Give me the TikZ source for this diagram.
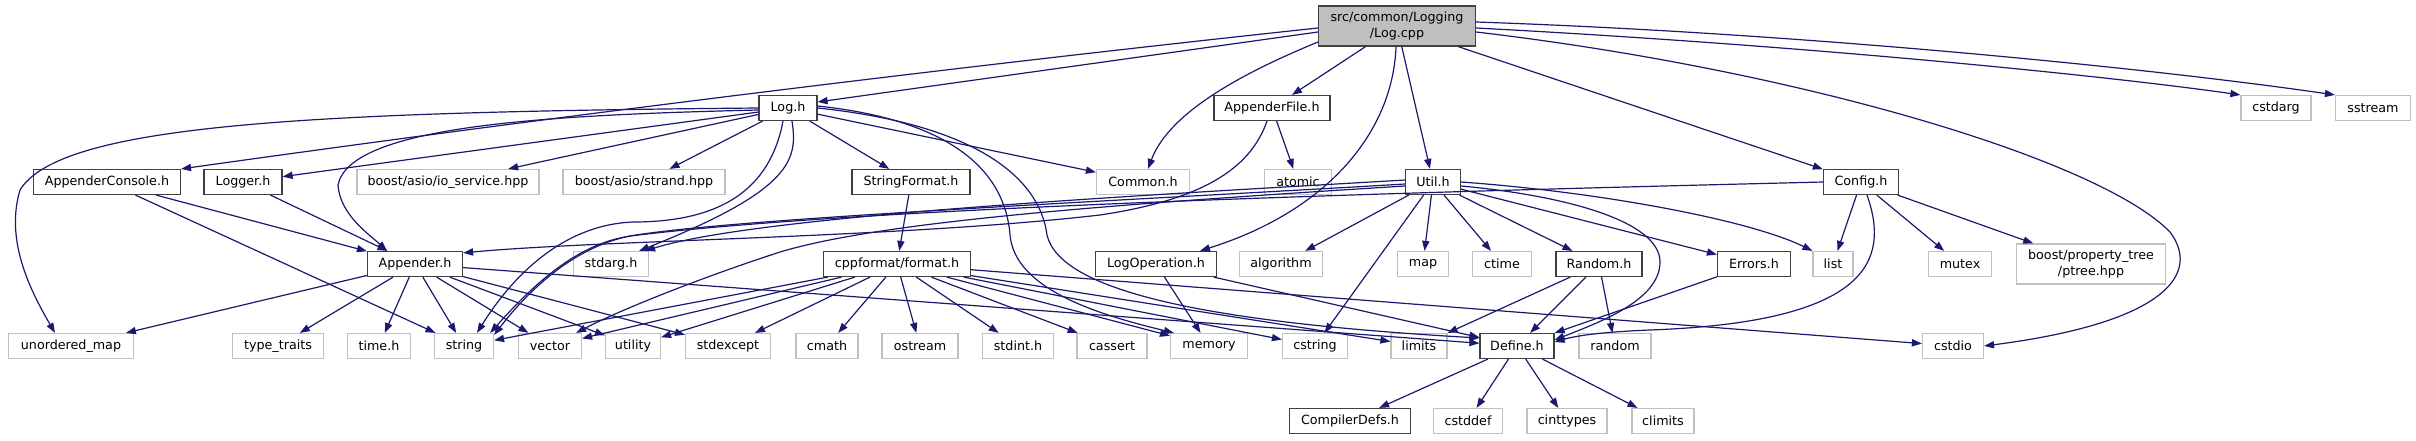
\documentclass[tikz,border=0pt]{standalone}
\usepackage{fontspec}
\setmainfont{DejaVu Sans}
\usetikzlibrary{arrows.meta,calc}
\definecolor{edgec}{HTML}{191970}
\definecolor{dkb}{HTML}{404040}
\definecolor{ltb}{HTML}{C0C0C0}
\definecolor{cppfill}{HTML}{BFBFBF}
\begin{document}
\begin{tikzpicture}[x=0.5pt,y=-0.5pt,
 box/.style={draw, rectangle, inner sep=0pt, minimum height=12.5pt, font=\fontsize{6.35}{7.6}\selectfont, line width=0.6pt, align=center},
 dk/.style={box, draw=dkb},
 lt/.style={box, draw=ltb},
 e/.style={draw=edgec, line width=0.6pt, -{Triangle[length=5pt,width=3.6pt]}}
]
\useasboundingbox (0,0) rectangle (2416,440);
% row 0
\node[dk, fill=cppfill, minimum width=78.5pt, minimum height=20pt] (logcpp) at (1397,26) {src/common/Logging\\/Log.cpp};
% row 1
\node[dk, minimum width=29pt] (logh) at (788,108) {Log.h};
\node[dk, minimum width=58pt] (appfile) at (1272,108) {AppenderFile.h};
\node[lt, minimum width=35pt] (cstdarg) at (2276,108) {cstdarg};
\node[lt, minimum width=37.5pt] (sstream) at (2373,108) {sstream};
% row 2
\node[dk, minimum width=73.5pt] (appcons) at (107,182) {AppenderConsole.h};
\node[dk, minimum width=39pt] (logger) at (243,182) {Logger.h};
\node[lt, minimum width=91pt] (iosvc) at (448,182) {boost/asio/io\_service.hpp};
\node[lt, minimum width=81pt] (strand) at (644,182) {boost/asio/strand.hpp};
\node[dk, minimum width=59pt] (strfmt) at (911,182) {StringFormat.h};
\node[lt, minimum width=46.5pt] (common) at (1143,182) {Common.h};
\node[lt, minimum width=33.5pt] (atomic) at (1298,182) {atomic};
\node[dk, minimum width=27.5pt] (util) at (1433,182) {Util.h};
\node[dk, minimum width=37.5pt] (config) at (1861,182) {Config.h};
% row 3
\node[dk, minimum width=47.5pt] (appender) at (415,264) {Appender.h};
\node[lt, minimum width=37.5pt] (stdargh) at (611,264) {stdarg.h};
\node[dk, minimum width=73.5pt] (format) at (897,264) {cppformat/format.h};
\node[dk, minimum width=60.5pt] (logop) at (1156,264) {LogOperation.h};
\node[lt, minimum width=41.5pt] (algorithm) at (1281,264) {algorithm};
\node[lt, minimum width=25.5pt] (map) at (1423,264) {map};
\node[lt, minimum width=29.5pt] (ctime) at (1502,264) {ctime};
\node[dk, minimum width=43pt] (randomh) at (1599,264) {Random.h};
\node[dk, minimum width=36.5pt] (errors) at (1754,264) {Errors.h};
\node[lt, minimum width=20pt] (list) at (1833,264) {list};
\node[lt, minimum width=31.5pt] (mutex) at (1960,264) {mutex};
\node[lt, minimum width=74.5pt, minimum height=20pt] (ptree) at (2091,264) {boost/property\_tree\\/ptree.hpp};
% row 4
\node[lt, minimum width=62.5pt] (umap) at (71,346) {unordered\_map};
\node[lt, minimum width=45.5pt] (typetraits) at (278,346) {type\_traits};
\node[lt, minimum width=31.5pt] (timeh) at (379,346) {time.h};
\node[lt, minimum width=29.5pt] (string) at (464,346) {string};
\node[lt, minimum width=31.5pt] (vector) at (550,346) {vector};
\node[lt, minimum width=27.5pt] (utility) at (633,346) {utility};
\node[lt, minimum width=42.5pt] (stdexcept) at (728,346) {stdexcept};
\node[lt, minimum width=31pt] (cmath) at (827,346) {cmath};
\node[lt, minimum width=38pt] (ostream) at (920,346) {ostream};
\node[lt, minimum width=35.5pt] (stdint) at (1018,346) {stdint.h};
\node[lt, minimum width=35pt] (cassert) at (1112,346) {cassert};
\node[lt, minimum width=38.5pt] (memory) at (1209,346) {memory};
\node[lt, minimum width=32.5pt] (cstring) at (1315,346) {cstring};
\node[lt, minimum width=28pt] (limits) at (1419,346) {limits};
\node[dk, minimum width=37pt] (define) at (1517,346) {Define.h};
\node[lt, minimum width=36pt] (random) at (1615,346) {random};
\node[lt, minimum width=30.5pt] (cstdio) at (1953,346) {cstdio};
% row 5
\node[dk, minimum width=60.5pt] (compdefs) at (1350,421) {CompilerDefs.h};
\node[lt, minimum width=34.5pt] (cstddef) at (1468,421) {cstddef};
\node[lt, minimum width=40pt] (cinttypes) at (1567,421) {cinttypes};
\node[lt, minimum width=31pt] (climits) at (1663,421) {climits};

% ---- edges from Log.cpp
\draw[e] ([yshift=-1pt]logcpp.west) .. controls (1000,62) and (600,110) .. (appcons.north east);
\draw[e] ([yshift=-3pt]logcpp.west) -- ([yshift=3pt]logh.east);
\draw[e] (logcpp) -- (appfile);
\draw[e] (logcpp) -- (util);
\draw[e] (logcpp) -- (config);
\draw[e] ([yshift=-8pt]logcpp.west) .. controls (1250,70) and (1170,110) .. ([xshift=2.5pt]common.north);
\draw[e] ([xshift=-0.5pt]logcpp.south) .. controls (1393,130) and (1330,210) .. ([xshift=22pt]logop.north);
\draw[e] ([yshift=-1pt]logcpp.east) .. controls (1800,45) and (2100,75) .. (cstdarg.north west);
\draw[e] ([yshift=2pt]logcpp.east) .. controls (1800,33) and (2150,68) .. (sstream.north west);
\draw[e] ([yshift=-3pt]logcpp.east) .. controls (1800,70) and (2100,160) .. (2170,232) .. controls (2200,272) and (2170,322) .. (cstdio.east);
% ---- edges from Log.h
\draw[e] (logh.west) .. controls (300,112) and (60,125) .. (20,190) .. controls (5,240) and (30,290) .. ([xshift=-8pt]umap.north);
\draw[e] ([yshift=-1pt]logh.west) .. controls (550,115) and (350,125) .. (338,185) .. controls (340,215) and (370,235) .. ([xshift=-14pt]appender.north);
\draw[e] (logh) -- (logger);
\draw[e] (logh) -- (iosvc);
\draw[e] (logh) -- (strand);
\draw[e] (logh) -- (strfmt);
\draw[e] (logh) -- (common);
\draw[e] ([xshift=-2.5pt]logh.south) .. controls (770,190) and (720,222) .. (633,222) .. controls (560,225) and (510,280) .. ([xshift=6.5pt]string.north);
\draw[e] ([xshift=2pt]logh.south) .. controls (798,160) and (792,190) .. ([xshift=-5pt]stdargh.north east);
\draw[e] ([yshift=1pt]logh.east) .. controls (950,120) and (1005,170) .. (1010,235) .. controls (1015,290) and (1100,315) .. ([xshift=2pt]memory.north west);
\draw[e] (logh.east) .. controls (980,125) and (1040,180) .. (1047,235) .. controls (1060,290) and (1200,322) .. ($(define.west)+(0,-8)$);
% ---- other edges
\draw[e] (appcons) -- (appender);
\draw[e] (appcons) -- (string);
\draw[e] (logger) -- (appender);
\draw[e] (appfile) -- (atomic);
\draw[e] ([xshift=-2.5pt]appfile.south) .. controls (1250,170) and (1200,200) .. (1100,215) .. controls (900,238) and (600,240) .. ([yshift=-1pt]appender.north east);
\draw[e] (strfmt) -- (format);
% Util.h
\draw[e] ([yshift=1pt]util.west) .. controls (1150,195) and (760,215) .. ([xshift=-2pt]stdargh.north east);
\draw[e] ([yshift=-1pt]util.west) .. controls (1100,202) and (700,220) .. (620,238) .. controls (565,250) and (520,300) .. ([xshift=-2pt]string.north east);
\draw[e] ([yshift=-2pt]util.west) .. controls (1100,205) and (880,222) .. (780,252) .. controls (700,278) and (620,310) .. ([xshift=-3pt]vector.north east);
\draw[e] (util) -- (algorithm);
\draw[e] (util) -- (map);
\draw[e] (util) -- (ctime);
\draw[e] (util) -- (randomh);
\draw[e] (util) -- (errors);
\draw[e] (util) -- (cstring);
\draw[e] (util.east) .. controls (1600,192) and (1750,220) .. (list.north west);
\draw[e] ([yshift=-2pt]util.east) .. controls (1560,195) and (1660,220) .. (1660,262) .. controls (1660,300) and (1600,322) .. ($(define.east)+(0,-6)$);
% Config.h
\draw[e] (config.west) .. controls (1500,190) and (880,205) .. (630,236) .. controls (570,248) and (525,295) .. ([yshift=-1pt]string.north east);
\draw[e] (config) -- (list);
\draw[e] (config) -- (mutex);
\draw[e] (config) -- (ptree);
\draw[e] ([xshift=3pt]config.south) .. controls (1890,260) and (1870,322) .. (1650,330) .. controls (1600,332) and (1575,336) .. ($(define.east)+(0,-4)$);
% Appender.h
\draw[e] (appender) -- (umap);
\draw[e] (appender) -- (typetraits);
\draw[e] (appender) -- (timeh);
\draw[e] (appender) -- (string);
\draw[e] (appender) -- (vector);
\draw[e] (appender) -- (utility);
\draw[e] (appender) -- (stdexcept);
\draw[e] (appender) -- (define);
% format.h
\draw[e] (format) -- (string);
\draw[e] (format) -- (vector);
\draw[e] (format) -- (utility);
\draw[e] (format) -- (stdexcept);
\draw[e] (format) -- (cmath);
\draw[e] (format) -- (ostream);
\draw[e] (format) -- (stdint);
\draw[e] (format) -- (cassert);
\draw[e] (format) -- (memory);
\draw[e] (format) -- (cstring);
\draw[e] (format) -- (limits);
\draw[e] (format) -- (cstdio);
% LogOperation.h
\draw[e] (logop) -- (memory);
\draw[e] (logop) -- (define);
% Random.h, Errors.h
\draw[e] (randomh) -- (limits);
\draw[e] (randomh) -- (define);
\draw[e] (randomh) -- (random);
\draw[e] (errors) -- (define);
% Define.h
\draw[e] (define) -- (compdefs);
\draw[e] (define) -- (cstddef);
\draw[e] (define) -- (cinttypes);
\draw[e] (define) -- (climits);
\end{tikzpicture}
\end{document}
